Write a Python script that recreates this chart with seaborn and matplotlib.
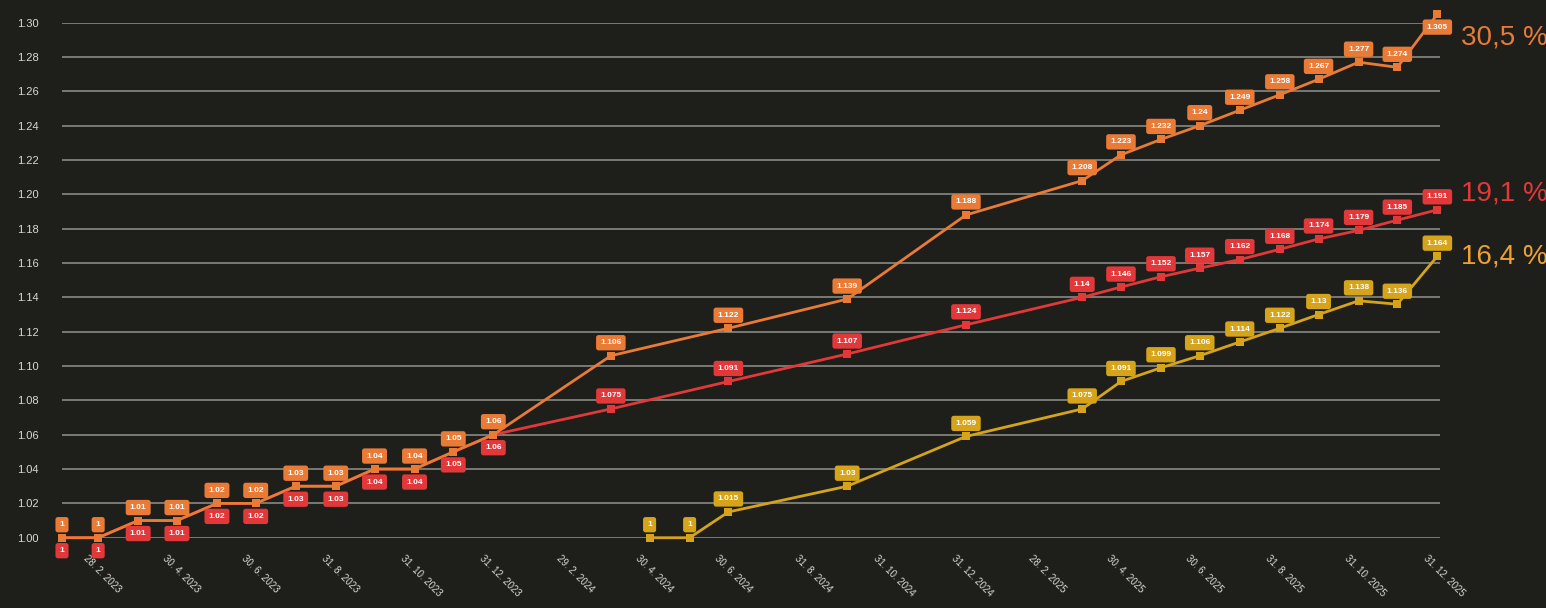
import matplotlib
matplotlib.use('Agg')
import matplotlib.pyplot as plt
import matplotlib.dates as mdates
import matplotlib.transforms as mtransforms
import numpy as np
import pandas as pd
import seaborn as sns

# month-end dates shared by the orange and red series
dates_main = ["2023-01-31", "2023-02-28", "2023-03-31", "2023-04-30", "2023-05-31",
              "2023-06-30", "2023-07-31", "2023-08-31", "2023-09-30", "2023-10-31",
              "2023-11-30", "2023-12-31", "2024-03-31", "2024-06-30", "2024-09-30",
              "2024-12-31", "2025-03-31", "2025-04-30", "2025-05-31", "2025-06-30",
              "2025-07-31", "2025-08-31", "2025-09-30", "2025-10-31", "2025-11-30",
              "2025-12-31"]
orange_vals = [1, 1, 1.01, 1.01, 1.02, 1.02, 1.03, 1.03, 1.04, 1.04, 1.05, 1.06,
               1.106, 1.122, 1.139, 1.188, 1.208, 1.223, 1.232, 1.24, 1.249, 1.258,
               1.267, 1.277, 1.274, 1.305]
red_vals = [1, 1, 1.01, 1.01, 1.02, 1.02, 1.03, 1.03, 1.04, 1.04, 1.05, 1.06,
            1.075, 1.091, 1.107, 1.124, 1.14, 1.146, 1.152, 1.157, 1.162, 1.168,
            1.174, 1.179, 1.185, 1.191]

dates_yellow = ["2024-04-30", "2024-05-31", "2024-06-30", "2024-09-30", "2024-12-31",
                "2025-03-31", "2025-04-30", "2025-05-31", "2025-06-30", "2025-07-31",
                "2025-08-31", "2025-09-30", "2025-10-31", "2025-11-30", "2025-12-31"]
yellow_vals = [1, 1, 1.015, 1.03, 1.059, 1.075, 1.091, 1.099, 1.106, 1.114, 1.122,
               1.13, 1.138, 1.136, 1.164]

pct_labels = {"orange": "30,5 %", "red": "19,1 %", "yellow": "16,4 %"}

xtick_dates = ["2023-02-28", "2023-04-30", "2023-06-30", "2023-08-31", "2023-10-31",
               "2023-12-31", "2024-02-29", "2024-04-30", "2024-06-30", "2024-08-31",
               "2024-10-31", "2024-12-31", "2025-02-28", "2025-04-30", "2025-06-30",
               "2025-08-31", "2025-10-31", "2025-12-31"]
xtick_labels = ["28. 2. 2023", "30. 4. 2023", "30. 6. 2023", "31. 8. 2023", "31. 10. 2023",
                "31. 12. 2023", "29. 2. 2024", "30. 4. 2024", "30. 6. 2024", "31. 8. 2024",
                "31. 10. 2024", "31. 12. 2024", "28. 2. 2025", "30. 4. 2025", "30. 6. 2025",
                "31. 8. 2025", "31. 10. 2025", "31. 12. 2025"]

colors = {"red": "#e2383a", "orange": "#e97b37", "yellow": "#d5a41b"}
pct_colors = {"orange": "#e97b37", "red": "#e2383a", "yellow": "#eea234"}
bg = "#1e1e1a"

df = pd.concat([
    pd.DataFrame({"date": pd.to_datetime(dates_main), "value": red_vals, "series": "red"}),
    pd.DataFrame({"date": pd.to_datetime(dates_main), "value": orange_vals, "series": "orange"}),
    pd.DataFrame({"date": pd.to_datetime(dates_yellow), "value": yellow_vals, "series": "yellow"}),
], ignore_index=True)

sns.set_theme(style="dark", rc={"axes.facecolor": bg, "figure.facecolor": bg})
plt.rcParams['font.family'] = ['Liberation Sans', 'DejaVu Sans']

fig = plt.figure(figsize=(15.46, 6.08), dpi=100)
ax = fig.add_axes([0.0401, 0.1156, 0.9314 - 0.0401, 0.9627 - 0.1156])

sns.lineplot(data=df, x="date", y="value", hue="series", hue_order=["red", "orange", "yellow"],
             palette=colors, marker="s", markersize=6, markeredgewidth=0, linewidth=2,
             legend=False, ax=ax, clip_on=False, zorder=3)

ax.set_xlim(pd.Timestamp("2023-01-31"), pd.Timestamp("2026-01-02"))
ax.set_ylim(1.0, 1.30)
ax.set_yticks(np.arange(1.0, 1.3001, 0.02))
ax.set_yticklabels([f"{t:.2f}" for t in np.arange(1.0, 1.3001, 0.02)])
ax.set_xticks(pd.to_datetime(xtick_dates))
ax.set_xticklabels(xtick_labels, rotation=-45, ha="left", va="top", rotation_mode="anchor")
ax.tick_params(axis="y", length=0, pad=17, labelsize=8, labelcolor="#d8d8d4")
ax.tick_params(axis="x", length=0, pad=11, labelsize=7, labelcolor="#d8d8d4")
shift = mtransforms.ScaledTranslation(-9 / 100, 0, fig.dpi_scale_trans)
for lab in ax.get_xticklabels():
    lab.set_transform(lab.get_transform() + shift)
ax.yaxis.grid(True, color="#8a8a84", linewidth=1.2)
ax.xaxis.grid(False)
for s in ax.spines.values():
    s.set_visible(False)
ax.set_xlabel("")
ax.set_ylabel("")

# value boxes
for name, grp in df.groupby("series"):
    grp = grp.reset_index(drop=True)
    for i, row in grp.iterrows():
        below = (name == "red" and row["date"].year == 2023) or (name == "orange" and i == len(grp) - 1)
        off = -13 if below else 13
        txt = f"{row['value']:.3f}".rstrip("0").rstrip(".")
        ax.annotate(txt, xy=(mdates.date2num(row["date"]), row["value"]), xytext=(0, off),
                    textcoords="offset pixels", ha="center", va="center", fontsize=6,
                    fontweight="bold", color="white", zorder=6, annotation_clip=False,
                    bbox=dict(boxstyle="round,pad=0.5,rounding_size=0.3", fc=colors[name], ec="none"))

# end labels
end_offsets = {"orange": -23, "red": 16, "yellow": 0}
for name, grp in df.groupby("series"):
    last = grp.iloc[-1]
    ax.annotate(pct_labels[name], xy=(mdates.date2num(last["date"]), last["value"]),
                xytext=(24, end_offsets[name]), textcoords="offset pixels", ha="left",
                va="center", fontsize=20, color=pct_colors[name], annotation_clip=False)

fig.savefig("out.png", dpi=100, facecolor=bg)
